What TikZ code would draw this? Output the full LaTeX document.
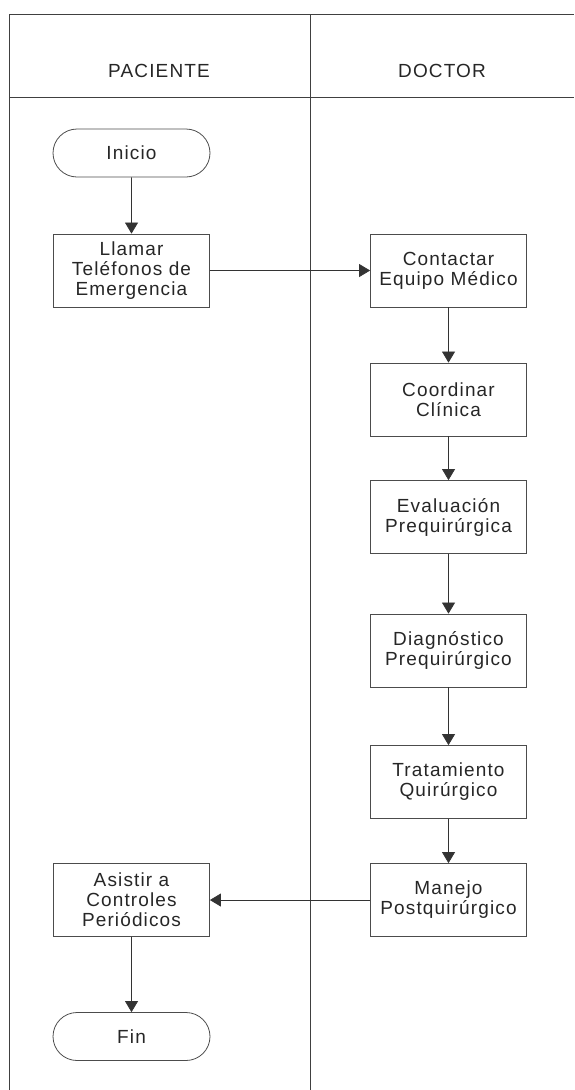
\documentclass[tikz,border=0pt]{standalone}
\usepackage{fontspec}
\setmainfont[LetterSpace=6]{Liberation Sans}
\usetikzlibrary{shapes.misc,arrows.meta}

\begin{document}
\begin{tikzpicture}
  [x=1pt,y=-1pt,
   every node/.style={font=\fontsize{19}{20}\selectfont,align=center,inner sep=0pt,text=black!85},
   proc/.style={draw=black!70,line width=.8pt,minimum width=156pt,minimum height=73pt},
   term/.style={draw=black!70,line width=.8pt,rounded rectangle,minimum width=157pt,minimum height=48pt},
   flow/.style={draw=black!80,line width=.7pt,-{Triangle[width=13pt,length=11pt]}}]
  \useasboundingbox (0,0) rectangle (574,1090);

  % lanes
  \draw[black!75,line width=.8pt] (9,1090) -- (9,14) -- (574,14);
  \draw[black!75,line width=.8pt] (9,97) -- (574,97);
  \draw[black!75,line width=.8pt] (310,14) -- (310,1090);
  \node (hpac) at (159,71) {PACIENTE};
  \node (hdoc) at (442,71) {DOCTOR};

  \node[term] (inicio) at (131.5,153) {Inicio};
  \node[proc] (llamar) at (131.5,270.5) {Llamar\\Teléfonos de\\Emergencia};
  \node[proc] (contactar) at (448.5,270.5) {Contactar\\Equipo Médico};
  \node[proc] (coordinar) at (448.5,399.5) {Coordinar\\Clínica};
  \node[proc] (evaluacion) at (448.5,517) {Evaluación\\Prequirúrgica};
  \node[proc] (diagnostico) at (448.5,650.5) {Diagnóstico\\Prequirúrgico};
  \node[proc] (tratamiento) at (448.5,782) {Tratamiento\\Quirúrgico};
  \node[proc] (manejo) at (448.5,900) {Manejo\\Postquirúrgico};
  \node[proc] (asistir) at (131.5,900) {Asistir a\\Controles\\Periódicos};
  \node[term] (fin) at (131.5,1036.5) {Fin};

  \foreach \from/\to in {inicio/llamar,llamar/contactar,contactar/coordinar,
    coordinar/evaluacion,evaluacion/diagnostico,diagnostico/tratamiento,
    tratamiento/manejo,manejo/asistir,asistir/fin}
    \draw[flow] (\from) -- (\to);

\end{tikzpicture}
\end{document}
